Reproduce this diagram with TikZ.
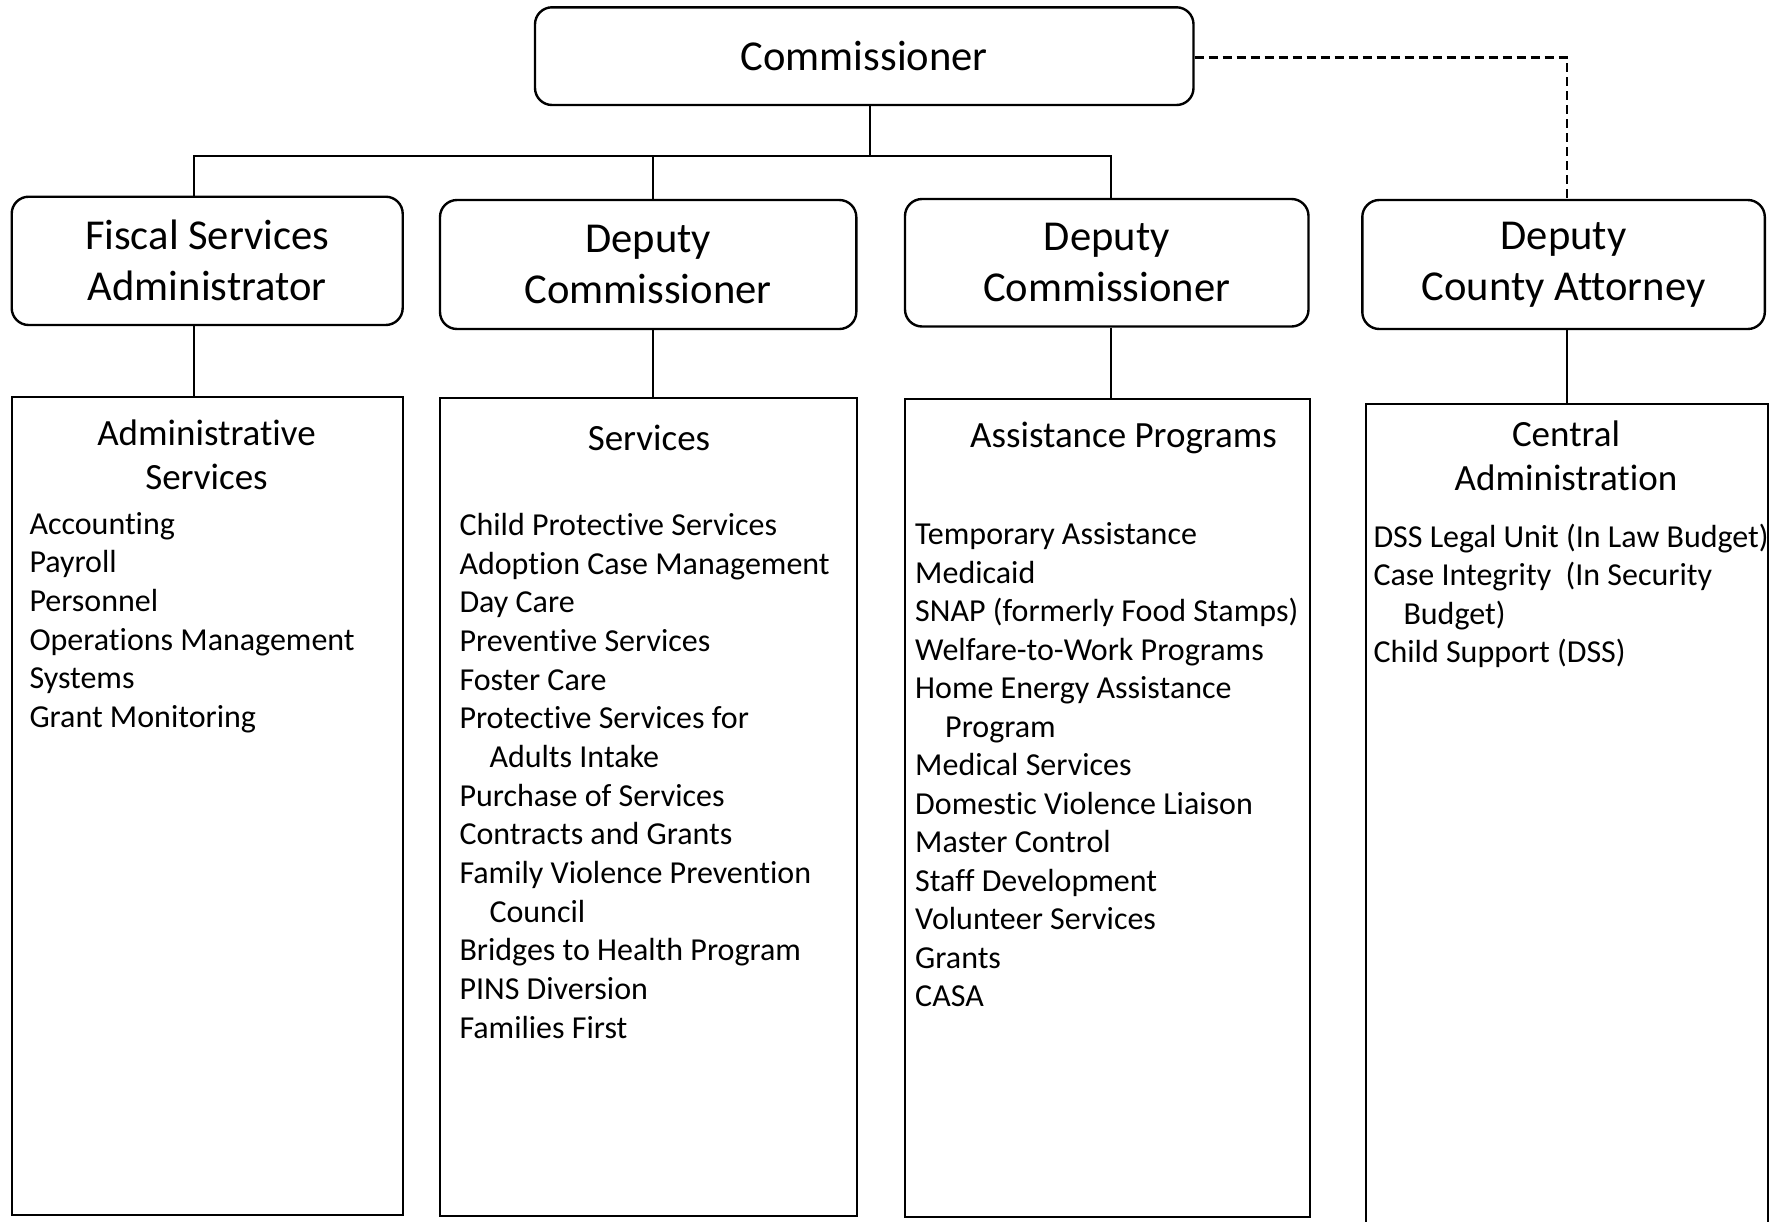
\documentclass[tikz,border=0pt]{standalone}
\usepackage{fontspec}
\setmainfont{Carlito}[Ligatures={NoCommon,NoContextual}]
\newcommand\myind{\hspace*{30pt}}
\begin{document}
\begin{tikzpicture}[x=1pt,y=-1pt,
  box/.style={draw, line width=2.4pt, rounded corners=17pt, inner sep=0pt, align=center,
              font=\fontsize{42.6}{51}\selectfont},
  unit/.style={draw, line width=2pt, inner sep=0pt},
  conn/.style={line width=2pt},
  head/.style={anchor=base, inner sep=0pt, font=\fontsize{37}{44.7}\selectfont},
  item/.style={anchor=base west, inner sep=0pt, font=\fontsize{32}{38.66}\selectfont}]
\useasboundingbox (0,0) rectangle (1783,1221);

% level 1
\node[box, minimum width=658.5pt, minimum height=97.7pt] (comm) at (864.25,56.15) {Commissioner};
% level 2
\node[box, minimum width=391pt, minimum height=128.3pt] (fis) at (207.2,260.85) {Fiscal Services\\Administrator};
\node[box, minimum width=416.3pt, minimum height=129pt] (dep1) at (648.15,264.5) {Deputy\\Commissioner};
\node[box, minimum width=403.5pt, minimum height=127.5pt] (dep2) at (1106.75,262.75) {Deputy\\Commissioner};
\node[box, minimum width=402.5pt, minimum height=129pt] (dca) at (1563.55,264.5) {Deputy\\County Attorney};
% level 3
\node[unit, minimum width=390.8pt, minimum height=818.3pt] (adm) at (207.1,805.85) {};
\node[unit, minimum width=416.7pt, minimum height=818pt] (srv) at (648.35,807) {};
\node[unit, minimum width=404.5pt, minimum height=818pt] (ast) at (1107.25,808) {};
\node[unit, minimum width=402pt, minimum height=836pt] (cen) at (1567,822) {};

% headers
\node[head] (admH1) at (206.5,445) {Administrative};
\node[head] (admH2) at (206.5,489.7) {Services};
\node[head] (srvH) at (649,450) {Services};
\node[head] (astH) at (1123.5,447.5) {Assistance Programs};
\node[head] (cenH1) at (1566,446.7) {Central};
\node[head] (cenH2) at (1566,490) {Administration};

% lists
\foreach \t [count=\i from 0] in {Accounting,Payroll,Personnel,Operations Management,Systems,Grant Monitoring}
  \node[item] (adm\i) at (29.3,534.3+\i*38.66) {\t};
\foreach \t [count=\i from 0] in {Child Protective Services,Adoption Case Management,Day Care,Preventive Services,Foster Care,Protective Services for,\myind Adults Intake,Purchase of Services,Contracts and Grants,Family Violence Prevention,\myind Council,Bridges to Health Program,PINS Diversion,Families First}
  \node[item] (srv\i) at (459.3,535.5+\i*38.66) {\t};
\foreach \t [count=\i from 0] in {Temporary Assistance,Medicaid,SNAP (formerly Food Stamps),Welfare-to-Work Programs,Home Energy Assistance,\myind Program,Medical Services,Domestic Violence Liaison,Master Control,Staff Development,Volunteer Services,Grants,CASA}
  \node[item] (ast\i) at (915,544.5+\i*38.5) {\t};
\foreach \t [count=\i from 0] in {DSS Legal Unit (In Law Budget),Case Integrity\ \ (In Security,\myind Budget),Child Support (DSS)}
  \node[item] (cen\i) at (1373.3,547.5+\i*38.4) {\t};

% connectors
\coordinate (bus0) at (870,155.5);
\coordinate (busL) at (194.4,155.5);
\coordinate (busM) at (653.3,155.5);
\coordinate (busR) at (1111,155.5);
\coordinate (dsh) at (1567,57.7);
\draw[conn] (bus0 |- comm.south) -- (bus0);
\draw[conn] (busL |- fis.north) -- (busL) -- (busR) -- (busR |- dep2.north);
\draw[conn] (busM) -- (busM |- dep1.north);
\draw[conn] (busL |- fis.south) -- (busL |- adm.north);
\draw[conn] (busM |- dep1.south) -- (busM |- srv.north);
\draw[conn] (busR |- dep2.south) -- (busR |- ast.north);
\draw[conn] (dsh |- dca.south) -- (dsh |- cen.north);
\draw[conn, line width=2.6pt, dash pattern=on 9pt off 5pt] (comm.east |- dsh) -- (dsh) -- (dsh |- dca.north);
\end{tikzpicture}
\end{document}
